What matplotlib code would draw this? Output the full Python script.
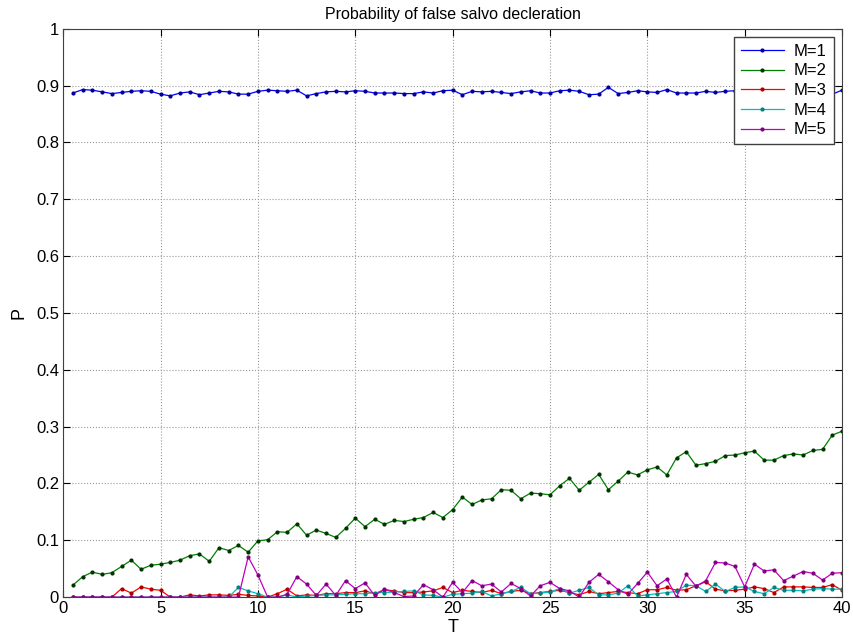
import numpy as np
import matplotlib
matplotlib.use("Agg")
import matplotlib.pyplot as plt

T = np.arange(1, 81) * 0.5

M1 = [0.887, 0.893, 0.892, 0.889, 0.886, 0.888, 0.890, 0.891, 0.890, 0.885,
      0.882, 0.887, 0.889, 0.884, 0.887, 0.890, 0.889, 0.885, 0.885, 0.890,
      0.892, 0.891, 0.890, 0.892, 0.882, 0.886, 0.889, 0.890, 0.889, 0.891,
      0.890, 0.887, 0.887, 0.887, 0.886, 0.886, 0.889, 0.887, 0.891, 0.892,
      0.884, 0.890, 0.889, 0.890, 0.888, 0.886, 0.889, 0.891, 0.887, 0.887,
      0.891, 0.892, 0.890, 0.884, 0.885, 0.897, 0.886, 0.888, 0.891, 0.889,
      0.888, 0.893, 0.887, 0.887, 0.887, 0.890, 0.888, 0.890, 0.891, 0.890,
      0.893, 0.890, 0.888, 0.889, 0.887, 0.889, 0.887, 0.891, 0.885, 0.892]

M2 = [0.021, 0.036, 0.044, 0.040, 0.043, 0.054, 0.065, 0.049, 0.056, 0.058,
      0.061, 0.065, 0.073, 0.076, 0.063, 0.087, 0.082, 0.091, 0.079, 0.099,
      0.101, 0.115, 0.114, 0.129, 0.109, 0.118, 0.112, 0.105, 0.121, 0.139,
      0.124, 0.137, 0.128, 0.135, 0.133, 0.137, 0.140, 0.149, 0.140, 0.154,
      0.176, 0.163, 0.171, 0.173, 0.189, 0.188, 0.173, 0.183, 0.182, 0.180,
      0.196, 0.209, 0.188, 0.202, 0.216, 0.189, 0.204, 0.220, 0.215, 0.224,
      0.229, 0.215, 0.245, 0.256, 0.232, 0.235, 0.239, 0.249, 0.250, 0.254,
      0.257, 0.241, 0.241, 0.249, 0.252, 0.250, 0.258, 0.260, 0.285, 0.292]

M3 = [0.000, 0.000, 0.000, 0.000, 0.000, 0.015, 0.007, 0.018, 0.014, 0.012,
      0.000, 0.000, 0.004, 0.002, 0.004, 0.004, 0.003, 0.005, 0.003, 0.002,
      0.000, 0.006, 0.014, 0.002, 0.004, 0.003, 0.006, 0.006, 0.008, 0.008,
      0.011, 0.006, 0.013, 0.011, 0.008, 0.008, 0.009, 0.011, 0.017, 0.008,
      0.012, 0.010, 0.008, 0.012, 0.006, 0.010, 0.012, 0.006, 0.008, 0.010,
      0.012, 0.008, 0.004, 0.010, 0.006, 0.008, 0.010, 0.008, 0.006, 0.013,
      0.013, 0.017, 0.012, 0.013, 0.020, 0.027, 0.014, 0.011, 0.012, 0.014,
      0.018, 0.015, 0.008, 0.018, 0.018, 0.018, 0.017, 0.017, 0.022, 0.012]

M4 = [0.000, 0.000, 0.000, 0.000, 0.000, 0.000, 0.000, 0.000, 0.000, 0.000,
      0.000, 0.000, 0.000, 0.000, 0.000, 0.000, 0.000, 0.017, 0.011, 0.006,
      0.000, 0.000, 0.004, 0.000, 0.002, 0.003, 0.004, 0.004, 0.005, 0.006,
      0.006, 0.008, 0.008, 0.009, 0.010, 0.011, 0.004, 0.003, 0.000, 0.005,
      0.006, 0.007, 0.010, 0.002, 0.006, 0.010, 0.017, 0.006, 0.007, 0.009,
      0.015, 0.007, 0.012, 0.017, 0.004, 0.004, 0.007, 0.020, 0.002, 0.004,
      0.006, 0.008, 0.010, 0.021, 0.020, 0.010, 0.023, 0.010, 0.017, 0.018,
      0.010, 0.006, 0.017, 0.012, 0.012, 0.011, 0.014, 0.015, 0.014, 0.014]

M5 = [0.000, 0.000, 0.000, 0.000, 0.000, 0.000, 0.000, 0.000, 0.000, 0.000,
      0.000, 0.000, 0.000, 0.000, 0.000, 0.000, 0.000, 0.000, 0.071, 0.039,
      0.000, 0.000, 0.005, 0.036, 0.023, 0.003, 0.023, 0.003, 0.029, 0.015,
      0.025, 0.003, 0.014, 0.008, 0.001, 0.002, 0.022, 0.013, 0.000, 0.026,
      0.008, 0.029, 0.020, 0.023, 0.009, 0.024, 0.015, 0.002, 0.020, 0.026,
      0.015, 0.011, 0.000, 0.026, 0.040, 0.027, 0.013, 0.005, 0.024, 0.044,
      0.020, 0.032, 0.000, 0.040, 0.019, 0.029, 0.061, 0.060, 0.054, 0.018,
      0.058, 0.046, 0.048, 0.029, 0.037, 0.045, 0.042, 0.030, 0.042, 0.043]

labels = ["M=1", "M=2", "M=3", "M=4", "M=5"]
series = [M1, M2, M3, M4, M5]
colors = ["#0000ff", "#008000", "#ff0000", "#00bfbf", "#bf00bf"]
mcolors = ["#000099", "#003300", "#aa0000", "#008080", "#800080"]

plt.rcParams['font.family'] = ['Liberation Sans', 'DejaVu Sans']

fig = plt.figure(figsize=(8.54, 6.4), dpi=100)
ax = fig.add_axes([0.074, 0.067, 0.912, 0.888])

for y, c, mc, lab in zip(series, colors, mcolors, labels):
    ax.plot(T, y, '-', color=c, lw=0.9, marker='.', markersize=4,
            markerfacecolor=mc, markeredgecolor=mc, label=lab)

ax.set_xlim(0, 40)
ax.set_ylim(0, 1)
ax.set_xticks(np.arange(0, 41, 5))
ax.set_yticks(np.round(np.arange(0, 1.01, 0.1), 1))
ax.set_yticklabels(["0", "0.1", "0.2", "0.3", "0.4", "0.5", "0.6", "0.7", "0.8", "0.9", "1"])
ax.grid(True, linestyle=':', color='#999999', linewidth=0.8)
ax.tick_params(direction='in', top=True, right=True, labelsize=12, length=5, pad=3)
for s in ax.spines.values():
    s.set_color('#404040')
ax.set_title("Probability of false salvo decleration", fontsize=11.5, pad=7)
ax.set_xlabel("T", fontsize=13, labelpad=2)
ax.set_ylabel("P", fontsize=13, labelpad=6)

leg = ax.legend(loc='upper right', fontsize=12, frameon=True, fancybox=False,
                borderaxespad=0.5, handlelength=2.6, handletextpad=0.6,
                labelspacing=0.28, borderpad=0.4, framealpha=1)
leg.get_frame().set_edgecolor('#404040')
leg.get_frame().set_linewidth(1.0)

fig.savefig("out.png", dpi=100)
